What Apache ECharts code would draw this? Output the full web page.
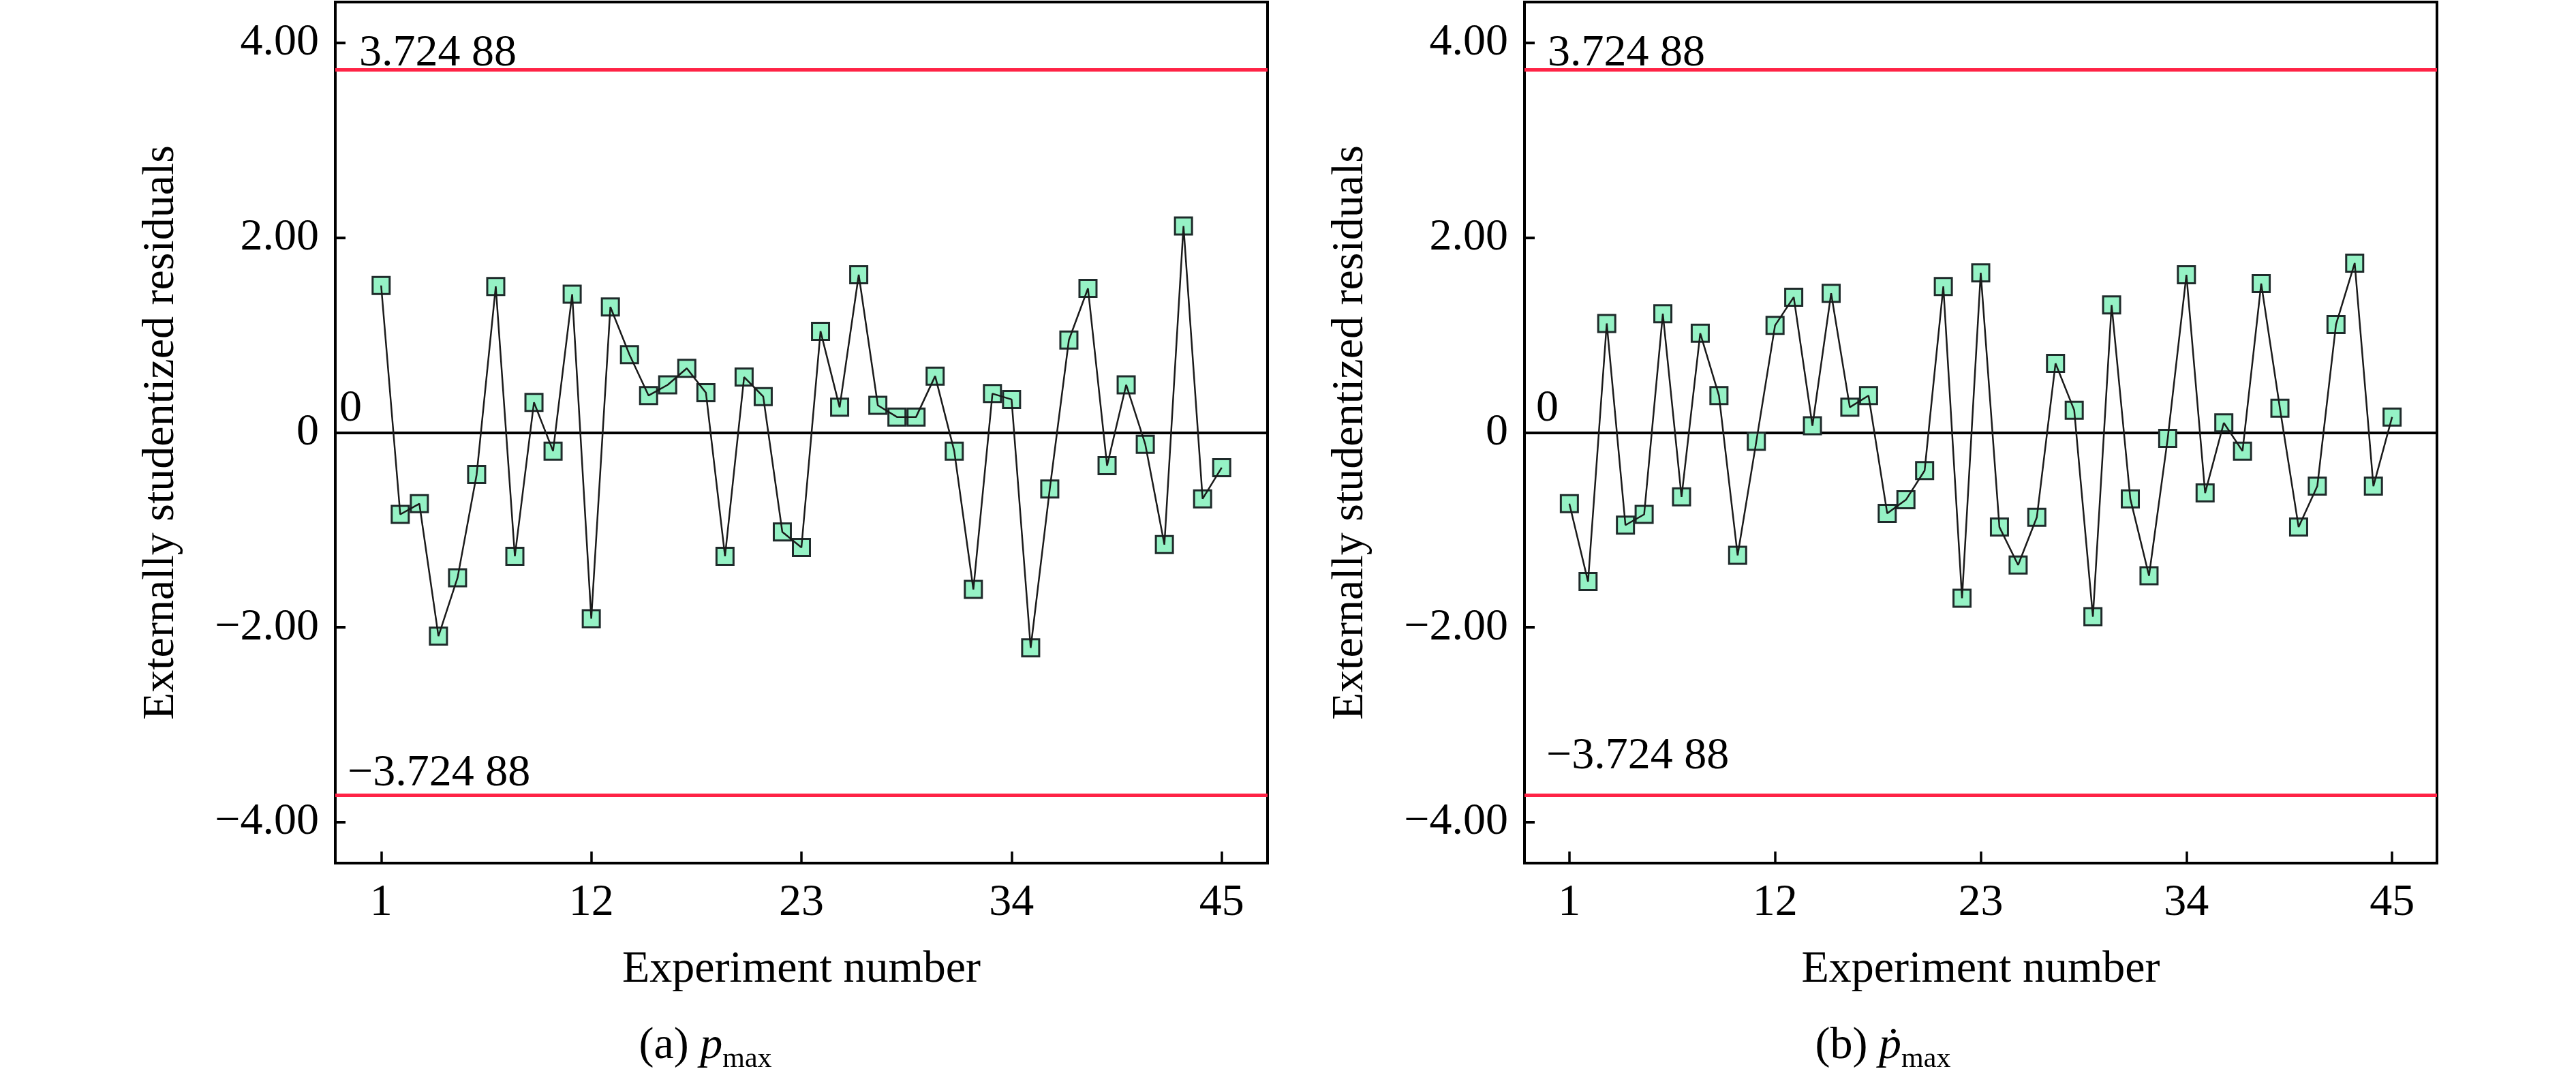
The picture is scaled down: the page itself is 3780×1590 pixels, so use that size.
<!DOCTYPE html>
<html>
<head>
<meta charset="utf-8">
<script src="https://cdn.jsdelivr.net/npm/echarts@6/dist/echarts.min.js"></script>
<style>
  html, body { margin: 0; padding: 0; background: #fff; }
  #main { width: 3780px; height: 1590px; }
</style>
</head>
<body>
<div id="main"></div>
<script>
// experiment numbers and externally studentized residuals
const experiments = [1, 2, 3, 4, 5, 6, 7, 8, 9, 10, 11, 12, 13, 14, 15, 16, 17, 18, 19, 20, 21, 22, 23,
  24, 25, 26, 27, 28, 29, 30, 31, 32, 33, 34, 35, 36, 37, 38, 39, 40, 41, 42, 43, 44, 45];
const residualsPmax = [1.51, -0.84, -0.73, -2.09, -1.49, -0.43, 1.50, -1.27, 0.31, -0.19, 1.42, -1.91,
  1.29, 0.80, 0.38, 0.49, 0.66, 0.41, -1.27, 0.57, 0.37, -1.02, -1.18, 1.04, 0.26, 1.62, 0.28, 0.16,
  0.16, 0.58, -0.19, -1.61, 0.40, 0.34, -2.21, -0.58, 0.95, 1.48, -0.34, 0.49, -0.12, -1.15, 2.12,
  -0.68, -0.36];
const residualsDpmax = [-0.73, -1.53, 1.12, -0.95, -0.84, 1.22, -0.66, 1.02, 0.38, -1.26, -0.09, 1.10,
  1.39, 0.07, 1.43, 0.26, 0.38, -0.83, -0.69, -0.39, 1.50, -1.70, 1.64, -0.97, -1.36, -0.87, 0.71, 0.23,
  -1.89, 1.31, -0.68, -1.47, -0.06, 1.62, -0.62, 0.10, -0.19, 1.53, 0.25, -0.97, -0.55, 1.11, 1.74,
  -0.55, 0.16];
const limits = [3.72488, -3.72488];
const xTicks = [1, 12, 23, 34, 45];
const yTicks = [-4, -2, 0, 2, 4];

const FONT = "'Liberation Serif', 'Times New Roman', 'DejaVu Serif', serif";
const FS = 66;

function fmtTick(v) {
  if (v === 0) return '0';
  return (v < 0 ? '\u2212' : '') + Math.abs(v).toFixed(2);
}
function fmtLimit(v) {
  if (Math.abs(v) < 1e-9) return '0';
  const s = Math.abs(v).toFixed(5);
  return (v < 0 ? '\u2212' : '') + s.slice(0, s.length - 2) + ' ' + s.slice(s.length - 2);
}

const grids = [
  { left: 492, right: 1920, top: 3, bottom: 324 },
  { left: 2237, right: 204, top: 3, bottom: 324 }
];
// label offsets for threshold annotations [dx, dy] per panel
const upperOff = [[35, -9], [34, -9]];
const lowerOff = [[18, -1], [32, 24]];
const zeroOff = [[6, 2], [17, 2]];

const textStyle = { fontFamily: FONT, fontSize: FS, color: '#000' };

const option = {
  animation: false,
  backgroundColor: '#fff',
  grid: grids.map(g => Object.assign({ show: true, borderColor: '#000', borderWidth: 4, backgroundColor: 'transparent' }, g)),
  xAxis: [0, 1].map(i => ({
    type: 'value', gridIndex: i, min: -1.4, max: 47.4,
    name: 'Experiment number', nameLocation: 'middle', nameGap: 124,
    nameTextStyle: textStyle,
    axisLine: { show: true, onZero: false, lineStyle: { color: '#000', width: 4 } },
    axisTick: { show: true, inside: true, length: 17, customValues: xTicks, lineStyle: { color: '#000', width: 3.5 } },
    axisLabel: Object.assign({ customValues: xTicks, margin: 26 }, textStyle),
    splitLine: { show: false }
  })),
  yAxis: [0, 1].map(i => ({
    type: 'value', gridIndex: i, min: -4.42, max: 4.42,
    name: 'Externally studentized residuals', nameLocation: 'middle', nameGap: 222,
    nameTextStyle: textStyle,
    axisLine: { show: true, onZero: false, lineStyle: { color: '#000', width: 4 } },
    axisTick: { show: true, inside: true, length: 15, customValues: yTicks, lineStyle: { color: '#000', width: 4 } },
    axisLabel: Object.assign({ customValues: yTicks, margin: 24, formatter: fmtTick }, textStyle),
    splitLine: { show: false }
  })),
  series: [],
  graphic: [
    {
      type: 'text', x: 1035, y: 1535, silent: true,
      style: {
        text: '{n|(a) }{i|p}{s|max}', align: 'center', verticalAlign: 'middle',
        rich: {
          n: { fontFamily: FONT, fontSize: FS, lineHeight: 80, fill: '#000' },
          i: { fontFamily: FONT, fontSize: FS, fontStyle: 'italic', lineHeight: 80, fill: '#000' },
          s: { fontFamily: FONT, fontSize: 42, lineHeight: 36, verticalAlign: 'bottom', fill: '#000' }
        }
      }
    },
    {
      type: 'text', x: 2763, y: 1535, silent: true,
      style: {
        text: '{n|(b) }{i|\u1E57}{s|max}', align: 'center', verticalAlign: 'middle',
        rich: {
          n: { fontFamily: FONT, fontSize: FS, lineHeight: 80, fill: '#000' },
          i: { fontFamily: FONT, fontSize: FS, fontStyle: 'italic', lineHeight: 80, fill: '#000' },
          s: { fontFamily: FONT, fontSize: 42, lineHeight: 36, verticalAlign: 'bottom', fill: '#000' }
        }
      }
    }
  ]
};

[residualsPmax, residualsDpmax].forEach((vals, i) => {
  const pts = experiments.map((x, k) => [x, vals[k]]);
  const lbl = (off) => ({
    show: true, position: 'insideStartTop', distance: off,
    formatter: p => fmtLimit(p.value),
    fontFamily: FONT, fontSize: FS, color: '#000'
  });
  option.series.push({
    type: 'scatter', xAxisIndex: i, yAxisIndex: i, z: 2,
    data: pts, symbol: 'rect', symbolSize: 25,
    itemStyle: { color: '#95f2c5', borderColor: '#1f2b2b', borderWidth: 3, opacity: 1 },
    markLine: {
      silent: true, symbol: 'none', z: 1, precision: 5, animation: false,
      data: [
        { yAxis: limits[0], lineStyle: { color: '#ff2346', width: 5, type: 'solid' }, label: lbl(upperOff[i]) },
        { yAxis: limits[1], lineStyle: { color: '#ff2346', width: 5, type: 'solid' }, label: lbl(lowerOff[i]) },
        { yAxis: 0, lineStyle: { color: '#000', width: 4, type: 'solid' }, label: lbl(zeroOff[i]) }
      ]
    }
  });
  option.series.push({
    type: 'line', xAxisIndex: i, yAxisIndex: i, z: 3, silent: true,
    data: pts, showSymbol: false, symbol: 'none',
    lineStyle: { color: '#1a1a1a', width: 2.5 }
  });
});

const chart = echarts.init(document.getElementById('main'), null, { renderer: 'canvas' });
chart.setOption(option);
</script>
</body>
</html>
